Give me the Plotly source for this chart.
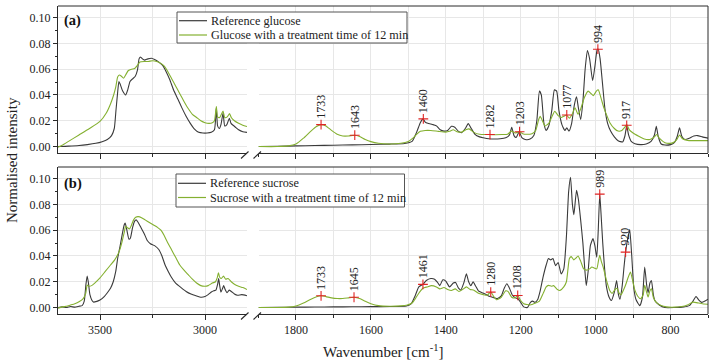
import plotly.graph_objects as go

# ---------------- data ----------------
# Panel (a): glucose
glc_ref_wn_hi = [3700, 3650, 3600, 3560, 3520, 3490, 3465, 3445, 3432, 3424, 3416, 3410, 3403, 3392, 3378, 3368, 3357, 3345, 3332, 3322, 3314, 3308, 3298, 3288, 3272, 3255, 3240, 3220, 3200, 3185, 3168, 3150, 3130, 3110, 3090, 3070, 3050, 3030, 3010, 2990, 2970, 2955, 2946, 2940, 2932, 2924, 2914, 2906, 2896, 2884, 2876, 2866, 2855, 2840, 2820, 2800]
glc_ref_hi = [0.0000, 0.0003, 0.0008, 0.0015, 0.0025, 0.0038, 0.0055, 0.0085, 0.0140, 0.0280, 0.0420, 0.0505, 0.0480, 0.0430, 0.0400, 0.0440, 0.0505, 0.0525, 0.0545, 0.0590, 0.0680, 0.0695, 0.0680, 0.0670, 0.0680, 0.0685, 0.0675, 0.0655, 0.0625, 0.0580, 0.0520, 0.0440, 0.0370, 0.0300, 0.0235, 0.0180, 0.0135, 0.0110, 0.0105, 0.0105, 0.0110, 0.0130, 0.0300, 0.0160, 0.0140, 0.0170, 0.0260, 0.0160, 0.0170, 0.0220, 0.0180, 0.0165, 0.0150, 0.0130, 0.0115, 0.0110]

glc_trt_wn_hi = [3700, 3680, 3650, 3600, 3550, 3500, 3470, 3450, 3435, 3425, 3416, 3408, 3398, 3388, 3378, 3365, 3350, 3335, 3322, 3310, 3290, 3270, 3250, 3230, 3210, 3195, 3180, 3160, 3140, 3120, 3100, 3080, 3060, 3040, 3020, 3000, 2980, 2965, 2955, 2946, 2940, 2930, 2914, 2906, 2894, 2883, 2875, 2860, 2840, 2820, 2800]
glc_trt_hi = [-0.0005, 0.0010, 0.0040, 0.0090, 0.0140, 0.0195, 0.0260, 0.0330, 0.0400, 0.0460, 0.0540, 0.0555, 0.0545, 0.0530, 0.0555, 0.0590, 0.0600, 0.0605, 0.0630, 0.0655, 0.0660, 0.0660, 0.0665, 0.0660, 0.0645, 0.0625, 0.0590, 0.0530, 0.0470, 0.0410, 0.0350, 0.0295, 0.0250, 0.0225, 0.0200, 0.0185, 0.0180, 0.0185, 0.0200, 0.0310, 0.0230, 0.0225, 0.0275, 0.0225, 0.0230, 0.0255, 0.0225, 0.0200, 0.0180, 0.0165, 0.0155]

glc_ref_wn_lo = [1900, 1850, 1800, 1750, 1700, 1650, 1600, 1550, 1510, 1490, 1478, 1468, 1461, 1455, 1448, 1440, 1432, 1425, 1415, 1405, 1395, 1385, 1376, 1367, 1358, 1348, 1340, 1332, 1322, 1310, 1300, 1285, 1270, 1255, 1240, 1230, 1224, 1218, 1212, 1204, 1197, 1188, 1175, 1165, 1157, 1150, 1145, 1138, 1132, 1125, 1117, 1110, 1104, 1098, 1090, 1082, 1077, 1071, 1064, 1057, 1051, 1046, 1040, 1034, 1028, 1022, 1016, 1008, 1002, 996, 993, 988, 982, 975, 968, 960, 950, 940, 928, 922, 917, 912, 905, 895, 880, 865, 852, 843, 838, 833, 825, 815, 800, 790, 782, 776, 770, 762, 750, 738, 728, 715, 700]
glc_ref_lo = [0.0000, 0.0002, 0.0005, 0.0008, 0.0010, 0.0013, 0.0016, 0.0019, 0.0024, 0.0040, 0.0110, 0.0185, 0.0215, 0.0190, 0.0180, 0.0175, 0.0168, 0.0160, 0.0130, 0.0120, 0.0125, 0.0157, 0.0150, 0.0120, 0.0108, 0.0140, 0.0178, 0.0140, 0.0095, 0.0075, 0.0068, 0.0060, 0.0058, 0.0060, 0.0068, 0.0090, 0.0150, 0.0085, 0.0070, 0.0115, 0.0070, 0.0055, 0.0058, 0.0085, 0.0200, 0.0430, 0.0400, 0.0180, 0.0125, 0.0160, 0.0280, 0.0440, 0.0430, 0.0280, 0.0170, 0.0125, 0.0145, 0.0120, 0.0180, 0.0320, 0.0385, 0.0300, 0.0210, 0.0350, 0.0600, 0.0745, 0.0680, 0.0510, 0.0620, 0.0750, 0.0755, 0.0680, 0.0500, 0.0290, 0.0180, 0.0120, 0.0075, 0.0045, 0.0035, 0.0080, 0.0160, 0.0090, 0.0040, 0.0022, 0.0015, 0.0020, 0.0040, 0.0090, 0.0157, 0.0080, 0.0020, 0.0012, 0.0015, 0.0030, 0.0080, 0.0145, 0.0080, 0.0055, 0.0065, 0.0082, 0.0085, 0.0075, 0.0065]

glc_trt_wn_lo = [1900, 1850, 1820, 1800, 1780, 1760, 1745, 1733, 1720, 1705, 1690, 1675, 1660, 1643, 1630, 1615, 1600, 1580, 1550, 1520, 1500, 1488, 1478, 1468, 1455, 1440, 1420, 1400, 1390, 1380, 1370, 1358, 1345, 1338, 1325, 1310, 1290, 1282, 1270, 1250, 1235, 1225, 1215, 1204, 1195, 1185, 1170, 1160, 1152, 1148, 1142, 1135, 1125, 1117, 1109, 1100, 1092, 1085, 1078, 1070, 1062, 1055, 1047, 1040, 1030, 1020, 1012, 1006, 998, 993, 985, 978, 970, 962, 950, 940, 930, 922, 917, 910, 900, 885, 870, 855, 845, 837, 830, 815, 800, 790, 782, 776, 768, 755, 740, 720, 700]
glc_trt_lo = [0.0000, 0.0000, 0.0005, 0.0020, 0.0065, 0.0120, 0.0155, 0.0170, 0.0160, 0.0125, 0.0095, 0.0082, 0.0082, 0.0088, 0.0078, 0.0055, 0.0038, 0.0025, 0.0020, 0.0025, 0.0040, 0.0065, 0.0095, 0.0118, 0.0125, 0.0125, 0.0118, 0.0112, 0.0118, 0.0130, 0.0115, 0.0112, 0.0132, 0.0137, 0.0110, 0.0095, 0.0093, 0.0093, 0.0092, 0.0093, 0.0095, 0.0120, 0.0105, 0.0115, 0.0100, 0.0095, 0.0100, 0.0125, 0.0210, 0.0235, 0.0200, 0.0160, 0.0180, 0.0230, 0.0274, 0.0240, 0.0225, 0.0235, 0.0245, 0.0220, 0.0255, 0.0300, 0.0250, 0.0290, 0.0380, 0.0430, 0.0410, 0.0395, 0.0430, 0.0440, 0.0370, 0.0300, 0.0240, 0.0185, 0.0140, 0.0120, 0.0125, 0.0150, 0.0170, 0.0130, 0.0105, 0.0080, 0.0058, 0.0055, 0.0070, 0.0093, 0.0065, 0.0030, 0.0025, 0.0035, 0.0060, 0.0090, 0.0060, 0.0048, 0.0046, 0.0046, 0.0046]

# Panel (b): sucrose
suc_ref_wn_hi = [3700, 3680, 3660, 3640, 3620, 3600, 3585, 3575, 3567, 3561, 3555, 3548, 3538, 3530, 3515, 3500, 3480, 3465, 3450, 3437, 3425, 3415, 3405, 3395, 3385, 3380, 3372, 3362, 3355, 3345, 3335, 3328, 3318, 3305, 3290, 3275, 3260, 3240, 3220, 3205, 3190, 3175, 3160, 3140, 3114, 3090, 3067, 3040, 3020, 3000, 2985, 2970, 2958, 2948, 2940, 2935, 2930, 2924, 2916, 2911, 2904, 2895, 2885, 2875, 2860, 2845, 2825, 2800]
suc_ref_hi = [0.0000, 0.0005, 0.0000, 0.0008, 0.0003, 0.0010, 0.0015, 0.0050, 0.0180, 0.0245, 0.0190, 0.0100, 0.0055, 0.0042, 0.0048, 0.0058, 0.0085, 0.0115, 0.0150, 0.0200, 0.0280, 0.0390, 0.0470, 0.0560, 0.0640, 0.0655, 0.0600, 0.0530, 0.0540, 0.0620, 0.0670, 0.0680, 0.0660, 0.0620, 0.0575, 0.0520, 0.0495, 0.0480, 0.0450, 0.0400, 0.0330, 0.0280, 0.0235, 0.0190, 0.0155, 0.0125, 0.0105, 0.0090, 0.0080, 0.0085, 0.0100, 0.0120, 0.0130, 0.0135, 0.0180, 0.0225, 0.0170, 0.0120, 0.0150, 0.0170, 0.0140, 0.0115, 0.0135, 0.0125, 0.0105, 0.0095, 0.0100, 0.0092]

suc_trt_wn_hi = [3700, 3680, 3660, 3640, 3620, 3600, 3580, 3568, 3561, 3553, 3540, 3525, 3500, 3475, 3450, 3430, 3410, 3395, 3385, 3378, 3370, 3360, 3350, 3340, 3330, 3318, 3300, 3285, 3265, 3245, 3225, 3210, 3195, 3180, 3160, 3140, 3120, 3100, 3080, 3060, 3040, 3020, 3000, 2985, 2965, 2950, 2942, 2936, 2930, 2922, 2912, 2902, 2890, 2875, 2860, 2840, 2820, 2800]
suc_trt_hi = [-0.0005, 0.0005, 0.0010, 0.0020, 0.0030, 0.0045, 0.0070, 0.0110, 0.0175, 0.0165, 0.0170, 0.0190, 0.0230, 0.0280, 0.0330, 0.0370, 0.0430, 0.0510, 0.0580, 0.0630, 0.0620, 0.0610, 0.0640, 0.0680, 0.0700, 0.0705, 0.0695, 0.0680, 0.0660, 0.0640, 0.0620, 0.0600, 0.0560, 0.0510, 0.0450, 0.0390, 0.0330, 0.0290, 0.0255, 0.0220, 0.0190, 0.0170, 0.0165, 0.0170, 0.0190, 0.0200, 0.0230, 0.0270, 0.0235, 0.0225, 0.0245, 0.0220, 0.0225, 0.0200, 0.0180, 0.0165, 0.0155, 0.0140]

suc_ref_wn_lo = [1900, 1850, 1800, 1750, 1700, 1650, 1600, 1550, 1505, 1492, 1482, 1472, 1461, 1452, 1440, 1430, 1422, 1416, 1408, 1400, 1390, 1380, 1374, 1366, 1360, 1352, 1345, 1339, 1333, 1327, 1320, 1313, 1303, 1295, 1282, 1270, 1262, 1252, 1244, 1237, 1230, 1222, 1214, 1208, 1200, 1192, 1182, 1174, 1168, 1162, 1155, 1148, 1140, 1132, 1126, 1120, 1114, 1107, 1100, 1092, 1085, 1078, 1072, 1067, 1062, 1058, 1051, 1046, 1040, 1034, 1029, 1025, 1020, 1014, 1007, 1002, 997, 993, 989, 985, 981, 976, 971, 964, 958, 950, 944, 939, 935, 929, 924, 920, 914, 909, 904, 898, 892, 882, 875, 869, 864, 860, 855, 851, 846, 842, 830, 815, 790, 765, 750, 740, 732, 725, 717, 708, 700]
suc_ref_lo = [0.0000, 0.0001, 0.0003, 0.0004, 0.0005, 0.0006, 0.0007, 0.0008, 0.0012, 0.0030, 0.0090, 0.0160, 0.0180, 0.0210, 0.0225, 0.0220, 0.0195, 0.0170, 0.0215, 0.0205, 0.0160, 0.0190, 0.0195, 0.0150, 0.0135, 0.0190, 0.0262, 0.0200, 0.0170, 0.0200, 0.0165, 0.0130, 0.0115, 0.0105, 0.0085, 0.0075, 0.0070, 0.0090, 0.0150, 0.0185, 0.0150, 0.0095, 0.0075, 0.0070, 0.0040, 0.0005, 0.0000, 0.0040, 0.0050, 0.0040, 0.0060, 0.0130, 0.0240, 0.0330, 0.0380, 0.0370, 0.0380, 0.0325, 0.0350, 0.0260, 0.0300, 0.0550, 0.0900, 0.1010, 0.0800, 0.0720, 0.0910, 0.0840, 0.0680, 0.0500, 0.0300, 0.0170, 0.0280, 0.0480, 0.0535, 0.0480, 0.0390, 0.0600, 0.0880, 0.0700, 0.0500, 0.0300, 0.0160, 0.0080, 0.0055, 0.0120, 0.0210, 0.0100, 0.0065, 0.0170, 0.0320, 0.0430, 0.0540, 0.0605, 0.0420, 0.0150, 0.0060, 0.0015, 0.0080, 0.0315, 0.0180, 0.0115, 0.0190, 0.0210, 0.0100, 0.0055, 0.0020, 0.0000, 0.0000, 0.0005, 0.0015, 0.0050, 0.0086, 0.0060, 0.0040, 0.0050, 0.0065]

suc_trt_wn_lo = [1900, 1850, 1820, 1800, 1780, 1760, 1745, 1733, 1720, 1705, 1690, 1675, 1660, 1645, 1630, 1615, 1600, 1580, 1550, 1520, 1505, 1490, 1480, 1470, 1461, 1450, 1438, 1425, 1416, 1405, 1395, 1385, 1375, 1365, 1355, 1345, 1335, 1325, 1313, 1300, 1290, 1280, 1272, 1264, 1252, 1240, 1234, 1224, 1215, 1208, 1200, 1192, 1175, 1160, 1150, 1140, 1132, 1126, 1118, 1112, 1102, 1095, 1085, 1078, 1070, 1065, 1058, 1052, 1047, 1040, 1032, 1024, 1016, 1010, 1003, 997, 992, 989, 985, 980, 971, 962, 956, 948, 943, 937, 932, 925, 920, 913, 907, 902, 895, 888, 880, 873, 869, 864, 860, 855, 851, 846, 838, 825, 811, 790, 770, 755, 740, 725, 712, 700]
suc_trt_lo = [0.0000, 0.0000, 0.0003, 0.0012, 0.0035, 0.0065, 0.0083, 0.0091, 0.0085, 0.0075, 0.0070, 0.0070, 0.0075, 0.0080, 0.0070, 0.0048, 0.0030, 0.0015, 0.0010, 0.0013, 0.0018, 0.0035, 0.0075, 0.0120, 0.0150, 0.0160, 0.0170, 0.0160, 0.0145, 0.0155, 0.0140, 0.0132, 0.0145, 0.0125, 0.0140, 0.0160, 0.0140, 0.0135, 0.0110, 0.0100, 0.0095, 0.0120, 0.0085, 0.0060, 0.0080, 0.0130, 0.0125, 0.0080, 0.0075, 0.0094, 0.0055, 0.0030, 0.0020, 0.0035, 0.0050, 0.0110, 0.0160, 0.0172, 0.0165, 0.0170, 0.0140, 0.0133, 0.0160, 0.0200, 0.0380, 0.0395, 0.0370, 0.0385, 0.0400, 0.0360, 0.0300, 0.0290, 0.0300, 0.0315, 0.0305, 0.0300, 0.0370, 0.0406, 0.0360, 0.0315, 0.0210, 0.0130, 0.0110, 0.0140, 0.0150, 0.0110, 0.0100, 0.0140, 0.0175, 0.0235, 0.0276, 0.0220, 0.0133, 0.0090, 0.0068, 0.0100, 0.0172, 0.0120, 0.0081, 0.0130, 0.0146, 0.0080, 0.0040, 0.0015, 0.0005, 0.0003, 0.0008, 0.0020, 0.0042, 0.0035, 0.0028, 0.0026]

# labelled peaks
peaks_a_wn = [1733, 1643, 1460, 1282, 1203, 1077, 994, 917]
peaks_a_val = [0.0170, 0.0088, 0.0215, 0.0093, 0.0115, 0.0245, 0.0755, 0.0165]
peaks_b_wn = [1733, 1645, 1461, 1280, 1208, 989, 920]
peaks_b_val = [0.0091, 0.0080, 0.0180, 0.0120, 0.0094, 0.0880, 0.0430]

names_a = ["Reference glucose", "Glucose with a treatment time of 12 min"]
names_b = ["Reference sucrose", "Sucrose with a treatment time of 12 min"]

y_ticks = [0.00, 0.02, 0.04, 0.06, 0.08, 0.10]

# ---------------- styling / layout ----------------
W, H = 713, 362
ML, MR, MT, MB = 58, 5, 6, 48
PW, PH = W - ML - MR, H - MT - MB


def pxx(p):
    return (p - ML) / PW


def pxy(p):
    return (H - MB - p) / PH


SERIF = "Times New Roman, Liberation Serif, Tinos, Nimbus Roman, DejaVu Serif, serif"
BLACK = "#3a3a3a"
GREEN = "#84b030"
AX = "#2a2a2a"
GRID = "#e7e7e7"
RED = "#e02424"

dom_hi = [0, pxx(247)]
dom_lo = [pxx(258.5), 1]
dom_a = [pxy(153), 1]
dom_b = [0, pxy(167)]

fig = go.Figure()


def add_line(x, y, xa, ya, color, name):
    fig.add_trace(go.Scatter(x=x, y=y, xaxis=xa, yaxis=ya, mode="lines", name=name,
                             line=dict(color=color, width=1.1, shape="spline", smoothing=0.5),
                             showlegend=False, hoverinfo="skip"))


add_line(glc_ref_wn_hi, glc_ref_hi, "x", "y", BLACK, names_a[0])
add_line(glc_ref_wn_lo, glc_ref_lo, "x2", "y", BLACK, names_a[0])
add_line(glc_trt_wn_hi, glc_trt_hi, "x", "y", GREEN, names_a[1])
add_line(glc_trt_wn_lo, glc_trt_lo, "x2", "y", GREEN, names_a[1])
add_line(suc_ref_wn_hi, suc_ref_hi, "x3", "y2", BLACK, names_b[0])
add_line(suc_ref_wn_lo, suc_ref_lo, "x4", "y2", BLACK, names_b[0])
add_line(suc_trt_wn_hi, suc_trt_hi, "x3", "y2", GREEN, names_b[1])
add_line(suc_trt_wn_lo, suc_trt_lo, "x4", "y2", GREEN, names_b[1])

for pw, pv, xa, ya in [(peaks_a_wn, peaks_a_val, "x2", "y"), (peaks_b_wn, peaks_b_val, "x4", "y2")]:
    fig.add_trace(go.Scatter(x=pw, y=pv, xaxis=xa, yaxis=ya, mode="markers", showlegend=False,
                             hoverinfo="skip",
                             marker=dict(symbol="cross-thin", size=7, color=RED,
                                         line=dict(color=RED, width=1.1))))

annotations = []
for pw, pv, xr, yr in [(peaks_a_wn, peaks_a_val, "x2", "y"), (peaks_b_wn, peaks_b_val, "x4", "y2")]:
    for w_, v_ in zip(pw, pv):
        annotations.append(dict(x=w_, y=v_, xref=xr, yref=yr, text=str(w_), textangle=-90,
                                showarrow=False, xanchor="center", yanchor="bottom", yshift=4,
                                font=dict(family=SERIF, size=12, color="#222")))


def xaxis_cfg(domain, rng, anchor, dtick, minor_dtick, labels):
    return dict(domain=domain, range=rng, anchor=anchor, showline=True, linecolor=AX, linewidth=1,
                ticks="outside", ticklen=5, tickcolor=AX, tickwidth=1, dtick=dtick, tick0=0,
                showticklabels=labels, tickfont=dict(family=SERIF, size=12, color="#222"),
                showgrid=True, gridcolor=GRID, gridwidth=1, zeroline=False,
                minor=dict(dtick=minor_dtick, ticks="outside", ticklen=3, tickcolor=AX,
                           showgrid=True, gridcolor=GRID, gridwidth=1))


def yaxis_cfg(domain, anchor):
    return dict(domain=domain, range=[-0.005, 0.109], anchor=anchor, showline=True, linecolor=AX,
                linewidth=1, ticks="outside", ticklen=4, tickcolor=AX, tickmode="array",
                tickvals=y_ticks, tickformat=".2f",
                tickfont=dict(family=SERIF, size=12, color="#222"),
                showgrid=True, gridcolor=GRID, zeroline=False,
                minor=dict(dtick=0.01, tick0=0, ticks="outside", ticklen=2, tickcolor=AX,
                           showgrid=False))


shapes = []
# frame: top & right edges of each panel (continuous across the break)
for top, bot in [(6, 153), (167, 314)]:
    shapes.append(dict(type="line", xref="paper", yref="paper", x0=0, x1=1, y0=pxy(top), y1=pxy(top),
                       line=dict(color=AX, width=1)))
    shapes.append(dict(type="line", xref="paper", yref="paper", x0=1, x1=1, y0=pxy(bot), y1=pxy(top),
                       line=dict(color=AX, width=1)))
    # axis break marks
    for x0 in (241, 253.5):
        shapes.append(dict(type="line", xref="paper", yref="paper", x0=pxx(x0), x1=pxx(x0 + 7.5),
                           y0=pxy(bot + 5.5), y1=pxy(bot - 1.5), line=dict(color=AX, width=1.1)))

# legends (drawn as boxes with line samples and real text)
for (bx0, by0, bx1, by1, rows, names) in [(177, 12, 407, 43, (20.7, 35.0), names_a),
                                          (176, 174, 404.5, 207, (183.3, 197.5), names_b)]:
    shapes.append(dict(type="rect", xref="paper", yref="paper", x0=pxx(bx0), x1=pxx(bx1),
                       y0=pxy(by1), y1=pxy(by0), line=dict(color="#555", width=1),
                       fillcolor="white", layer="above"))
    for ry, col, nm in zip(rows, (BLACK, GREEN), names):
        shapes.append(dict(type="line", xref="paper", yref="paper", x0=pxx(bx0 + 2), x1=pxx(bx0 + 30),
                           y0=pxy(ry), y1=pxy(ry), line=dict(color=col, width=1.2)))
        annotations.append(dict(x=pxx(bx0 + 32), y=pxy(ry), xref="paper", yref="paper", text=nm,
                                showarrow=False, xanchor="left", yanchor="middle",
                                font=dict(family=SERIF, size=12.2, color="#222")))

# panel labels
annotations.append(dict(x=pxx(62), y=pxy(20.5), xref="paper", yref="paper", text="<b>(a)</b>",
                        showarrow=False, xanchor="left", yanchor="middle",
                        font=dict(family=SERIF, size=14.5, color="#111")))
annotations.append(dict(x=pxx(62), y=pxy(183), xref="paper", yref="paper", text="<b>(b)</b>",
                        showarrow=False, xanchor="left", yanchor="middle",
                        font=dict(family=SERIF, size=14.5, color="#111")))
# axis titles
annotations.append(dict(x=pxx(12), y=pxy(160), xref="paper", yref="paper", text="Normalised intensity",
                        textangle=-90, showarrow=False, xanchor="center", yanchor="middle",
                        font=dict(family=SERIF, size=15, color="#222")))
annotations.append(dict(x=pxx(382.5), y=pxy(340), xref="paper", yref="paper",
                        text="Wavenumber [cm<sup>-1</sup>]", showarrow=False, xanchor="center",
                        yanchor="top", font=dict(family=SERIF, size=15, color="#222")))

fig.update_layout(
    width=W, height=H, margin=dict(l=ML, r=MR, t=MT, b=MB),
    paper_bgcolor="white", plot_bgcolor="white",
    font=dict(family=SERIF, size=12, color="#222"),
    showlegend=False,
    xaxis=xaxis_cfg(dom_hi, [3700, 2800], "y", 500, 250, False),
    xaxis2=xaxis_cfg(dom_lo, [1900, 700], "y", 200, 100, False),
    xaxis3=xaxis_cfg(dom_hi, [3700, 2800], "y2", 500, 250, True),
    xaxis4=xaxis_cfg(dom_lo, [1900, 700], "y2", 200, 100, True),
    yaxis=yaxis_cfg(dom_a, "x"),
    yaxis2=yaxis_cfg(dom_b, "x3"),
    shapes=shapes,
    annotations=annotations,
)

fig.write_html("out.html", config={"displayModeBar": False},
               post_script="document.body.style.margin='0px';document.body.style.padding='0px';")
